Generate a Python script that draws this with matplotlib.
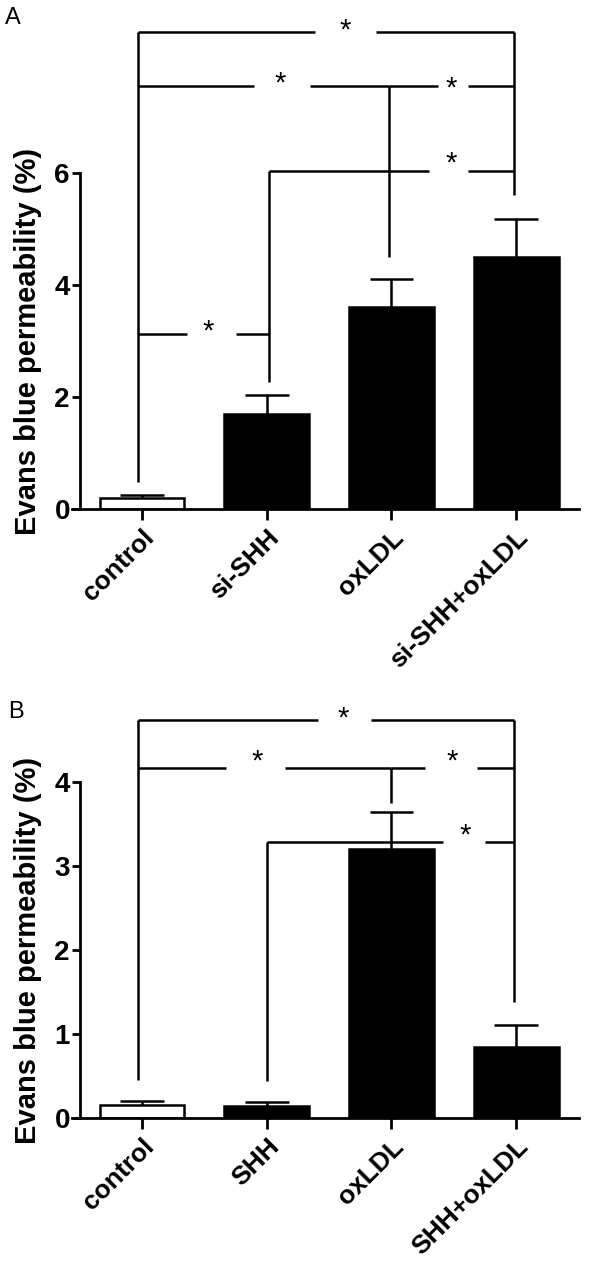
import matplotlib
matplotlib.use("Agg")
import matplotlib.pyplot as plt
import numpy as np

plt.rcParams['font.family'] = ['Liberation Sans', 'DejaVu Sans']

# panel A data
groups_a = ["control", "si-SHH", "oxLDL", "si-SHH+oxLDL"]
means_a = [0.2, 1.7, 3.6, 4.5]
sem_a = [0.05, 0.33, 0.5, 0.67]

# panel B data
groups_b = ["control", "SHH", "oxLDL", "SHH+oxLDL"]
means_b = [0.15, 0.14, 3.2, 0.85]
sem_b = [0.05, 0.05, 0.44, 0.26]

# significance brackets: (x_left, x_right, y, gap_start, gap_end, star_x, star_y)
brackets_a = [
    (-0.03, 2.98, 8.52, 1.39, 1.88, 1.63, 8.70),
    (-0.03, 1.98, 7.55, 0.90, 1.35, 1.11, 7.75),
    (1.98, 2.98, 7.55, 2.37, 2.61, 2.48, 7.66),
    (1.02, 2.98, 6.04, 2.30, 2.61, 2.48, 6.32),
    (-0.03, 1.02, 3.12, 0.36, 0.75, 0.53, 3.32),
]
# vertical legs: (x, y_bottom, y_top)
legs_a = [(-0.03, 0.48, 8.52), (1.02, 2.27, 6.04), (1.98, 4.5, 7.55), (2.98, 5.6, 8.52)]

brackets_b = [
    (-0.03, 2.98, 4.74, 1.41, 1.84, 1.61, 4.86),
    (-0.03, 2.0, 4.17, 0.67, 1.15, 0.92, 4.35),
    (2.0, 2.98, 4.17, 2.27, 2.69, 2.49, 4.35),
    (1.0, 2.98, 3.29, 2.41, 2.75, 2.59, 3.46),
]
legs_b = [(-0.03, 0.45, 4.74), (1.0, 0.44, 3.29), (2.0, 3.75, 4.17), (2.98, 1.38, 4.74)]

LW = 2.0
STAR_FS = 21


def draw_panel(ax, groups, means, sem, brackets, legs, ymax, ytop, yticks):
    x = np.arange(len(groups))
    colors = ["white"] + ["black"] * (len(groups) - 1)
    # error bars (upper only)
    tops = np.array(means) + np.array(sem)
    ax.vlines(x, means, tops, color="black", lw=1.8, zorder=1)
    ax.hlines(tops, x - 0.175, x + 0.175, color="black", lw=1.8, zorder=1)
    ax.bar(x, means, width=0.68, color=colors, edgecolor="black", linewidth=1.8, zorder=2)

    for xl, xr, y, g0, g1, sx, sy in brackets:
        ax.hlines([y, y], [xl, g1], [g0, xr], color="black", lw=1.8)
        ax.annotate("*", xy=(sx, sy), xytext=(0, -0.57 * STAR_FS), textcoords="offset points",
                    ha="center", va="baseline", fontsize=STAR_FS)
    for lx, y0, y1 in legs:
        ax.vlines(lx, y0, y1, color="black", lw=1.8)

    ax.set_xlim(-0.565, 3.5)
    ax.set_ylim(0, ymax)
    for s in ["top", "right"]:
        ax.spines[s].set_visible(False)
    ax.spines["left"].set_position(("data", -0.5))
    ax.spines["left"].set_bounds(0, ytop)
    ax.spines["left"].set_linewidth(LW)
    ax.spines["bottom"].set_linewidth(LW)
    ax.set_yticks(yticks)
    ax.set_yticklabels([str(t) for t in yticks], fontsize=20, fontweight="bold")
    ax.set_xticks(x)
    ax.set_xticklabels(groups, rotation=45, ha="right", va="top", rotation_mode="anchor",
                       fontsize=19, fontweight="bold")
    ax.tick_params(axis="y", length=6, width=LW, pad=1)
    ax.tick_params(axis="x", length=8, width=LW, pad=4)
    ax.set_ylabel("Evans blue permeability (%)", fontsize=21, fontweight="bold")
    ax.yaxis.set_label_coords(-0.058, (ytop / 2) / ymax)


fig = plt.figure(figsize=(6, 12.77), dpi=100)
ax_a = fig.add_axes([0.1192, 0.6014, 0.845, 0.3947])
ax_b = fig.add_axes([0.1192, 0.1245, 0.845, 0.3355])

draw_panel(ax_a, groups_a, means_a, sem_a, brackets_a, legs_a, 9.0, 6, [0, 2, 4, 6])
draw_panel(ax_b, groups_b, means_b, sem_b, brackets_b, legs_b, 5.1, 4, [0, 1, 2, 3, 4])

fig.text(0.008, 1 - 7 / 1277, "A", fontsize=17, va="top", ha="left")
fig.text(0.013, 1 - 701 / 1277, "B", fontsize=17, va="top", ha="left")

fig.savefig("out.png", dpi=100)
